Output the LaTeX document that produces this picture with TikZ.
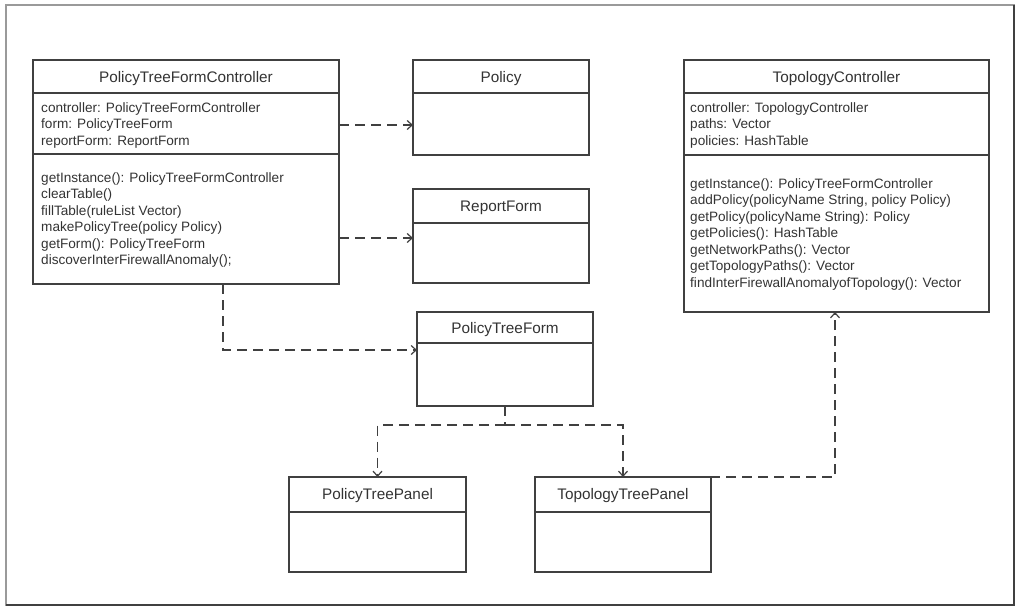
\documentclass[tikz,border=0pt]{standalone}
\usepackage{fontspec}
\setmainfont{Liberation Sans}
\usetikzlibrary{arrows.meta}
\definecolor{ink}{HTML}{404040}
\definecolor{txt}{HTML}{333333}
\definecolor{framegray}{HTML}{9A9A9A}
\begin{document}
\begin{tikzpicture}[x=1pt,y=-1pt,
  umlbox/.style={draw=ink, line width=1.6pt, rectangle, anchor=north west, inner sep=0pt, outer sep=0pt},
  sepline/.style={draw=ink, line width=1.6pt},
  classtitle/.style={font=\fontsize{15.3}{18}\selectfont, text=txt, anchor=base, inner sep=0pt},
  member/.style={font=\fontsize{13.6}{16}\selectfont, text=txt, anchor=base west, inner sep=0pt},
  dep/.style={draw=ink, line width=1.6pt, dash pattern=on 10pt off 6pt,
    -{Straight Barb[length=5pt,width=9pt,line width=1.2pt]}},
  depline/.style={draw=ink, line width=1.6pt, dash pattern=on 10pt off 6pt}]

\useasboundingbox (0,0) rectangle (1017,608);

% outer frame
\node[draw=framegray, line width=1.2pt, anchor=north west, inner sep=0pt, outer sep=0pt,
      minimum width=1008pt, minimum height=600pt] (frame) at (6,5) {};
\draw[ink, line width=2pt] (frame.south west) -- (frame.south east) -- (frame.north east);

% ---------- class boxes ----------
\node[umlbox, minimum width=306pt, minimum height=224pt] (ctrl) at (33,60) {};
\node[umlbox, minimum width=176pt, minimum height=95pt]  (pol)  at (413,60) {};
\node[umlbox, minimum width=176pt, minimum height=94pt]  (rep)  at (413,189) {};
\node[umlbox, minimum width=305pt, minimum height=252pt] (tc)   at (684,60) {};
\node[umlbox, minimum width=176pt, minimum height=94pt]  (ptf)  at (417,312) {};
\node[umlbox, minimum width=177pt, minimum height=95pt]  (ptp)  at (289,477) {};
\node[umlbox, minimum width=176pt, minimum height=95pt]  (ttp)  at (535,477) {};

% compartment lines
\draw[sepline] (ctrl.west |- 0,93)  -- (ctrl.east |- 0,93);
\draw[sepline] (ctrl.west |- 0,154) -- (ctrl.east |- 0,154);
\draw[sepline] (pol.west |- 0,93)   -- (pol.east |- 0,93);
\draw[sepline] (rep.west |- 0,223)  -- (rep.east |- 0,223);
\draw[sepline] (tc.west |- 0,93)    -- (tc.east |- 0,93);
\draw[sepline] (tc.west |- 0,155)   -- (tc.east |- 0,155);
\draw[sepline] (ptf.west |- 0,343)  -- (ptf.east |- 0,343);
\draw[sepline] (ptp.west |- 0,512)  -- (ptp.east |- 0,512);
\draw[sepline] (ttp.west |- 0,512)  -- (ttp.east |- 0,512);

% titles
\node[classtitle] (ctrlT) at (ctrl.north |- 0,82) {PolicyTreeFormController};
\node[classtitle] (polT)  at (pol.north |- 0,82)  {Policy};
\node[classtitle] (repT)  at (rep.north |- 0,211) {ReportForm};
\node[classtitle] (tcT)   at (tc.north |- 0,82)   {TopologyController};
\node[classtitle] (ptfT)  at (ptf.north |- 0,333) {PolicyTreeForm};
\node[classtitle] (ptpT)  at (ptp.north |- 0,499) {PolicyTreePanel};
\node[classtitle] (ttpT)  at (ttp.north |- 0,499) {TopologyTreePanel};

% PolicyTreeFormController members
\node[member] (ca1) at (41,112)   {controller: PolicyTreeFormController};
\node[member] (ca2) at (41,128.5) {form: PolicyTreeForm};
\node[member] (ca3) at (41,145)   {reportForm: ReportForm};
\node[member] (cm1) at (41,182)   {getInstance(): PolicyTreeFormController};
\node[member] (cm2) at (41,198.5) {clearTable()};
\node[member] (cm3) at (41,215)   {fillTable(ruleList Vector)};
\node[member] (cm4) at (41,231.5) {makePolicyTree(policy Policy)};
\node[member] (cm5) at (41,248)   {getForm(): PolicyTreeForm};
\node[member] (cm6) at (41,264.5) {discoverInterFirewallAnomaly();};

% TopologyController members
\node[member] (ta1) at (690,112)   {controller: TopologyController};
\node[member] (ta2) at (690,128.5) {paths: Vector};
\node[member] (ta3) at (690,145)   {policies: HashTable};
\node[member] (tm1) at (690,188)   {getInstance(): PolicyTreeFormController};
\node[member] (tm2) at (690,204.5) {addPolicy(policyName String, policy Policy)};
\node[member] (tm3) at (690,221)   {getPolicy(policyName String): Policy};
\node[member] (tm4) at (690,237.5) {getPolicies(): HashTable};
\node[member] (tm5) at (690,254)   {getNetworkPaths(): Vector};
\node[member] (tm6) at (690,270.5) {getTopologyPaths(): Vector};
\node[member] (tm7) at (690,287)   {findInterFirewallAnomalyofTopology(): Vector};

% ---------- dependencies ----------
\draw[dep] (ctrl.east |- 0,125) -- (pol.west |- 0,125);
\draw[dep] (ctrl.east |- 0,238) -- (rep.west |- 0,238);
\draw[dep] (ctrl.south -| 223,0) |- (ptf.west |- 0,350);

\coordinate (split) at (ptf.south |- 0,425);
\draw[depline] (ptf.south) -- (split);
\draw[dep] (split) -| (ptp.north);
\draw[dep] (split) -| (ttp.north);

\coordinate (bend) at (835,477);
\draw[dep] (ttp.north -| 678,0) -- (bend) -- (tc.south -| bend);

\end{tikzpicture}
\end{document}
